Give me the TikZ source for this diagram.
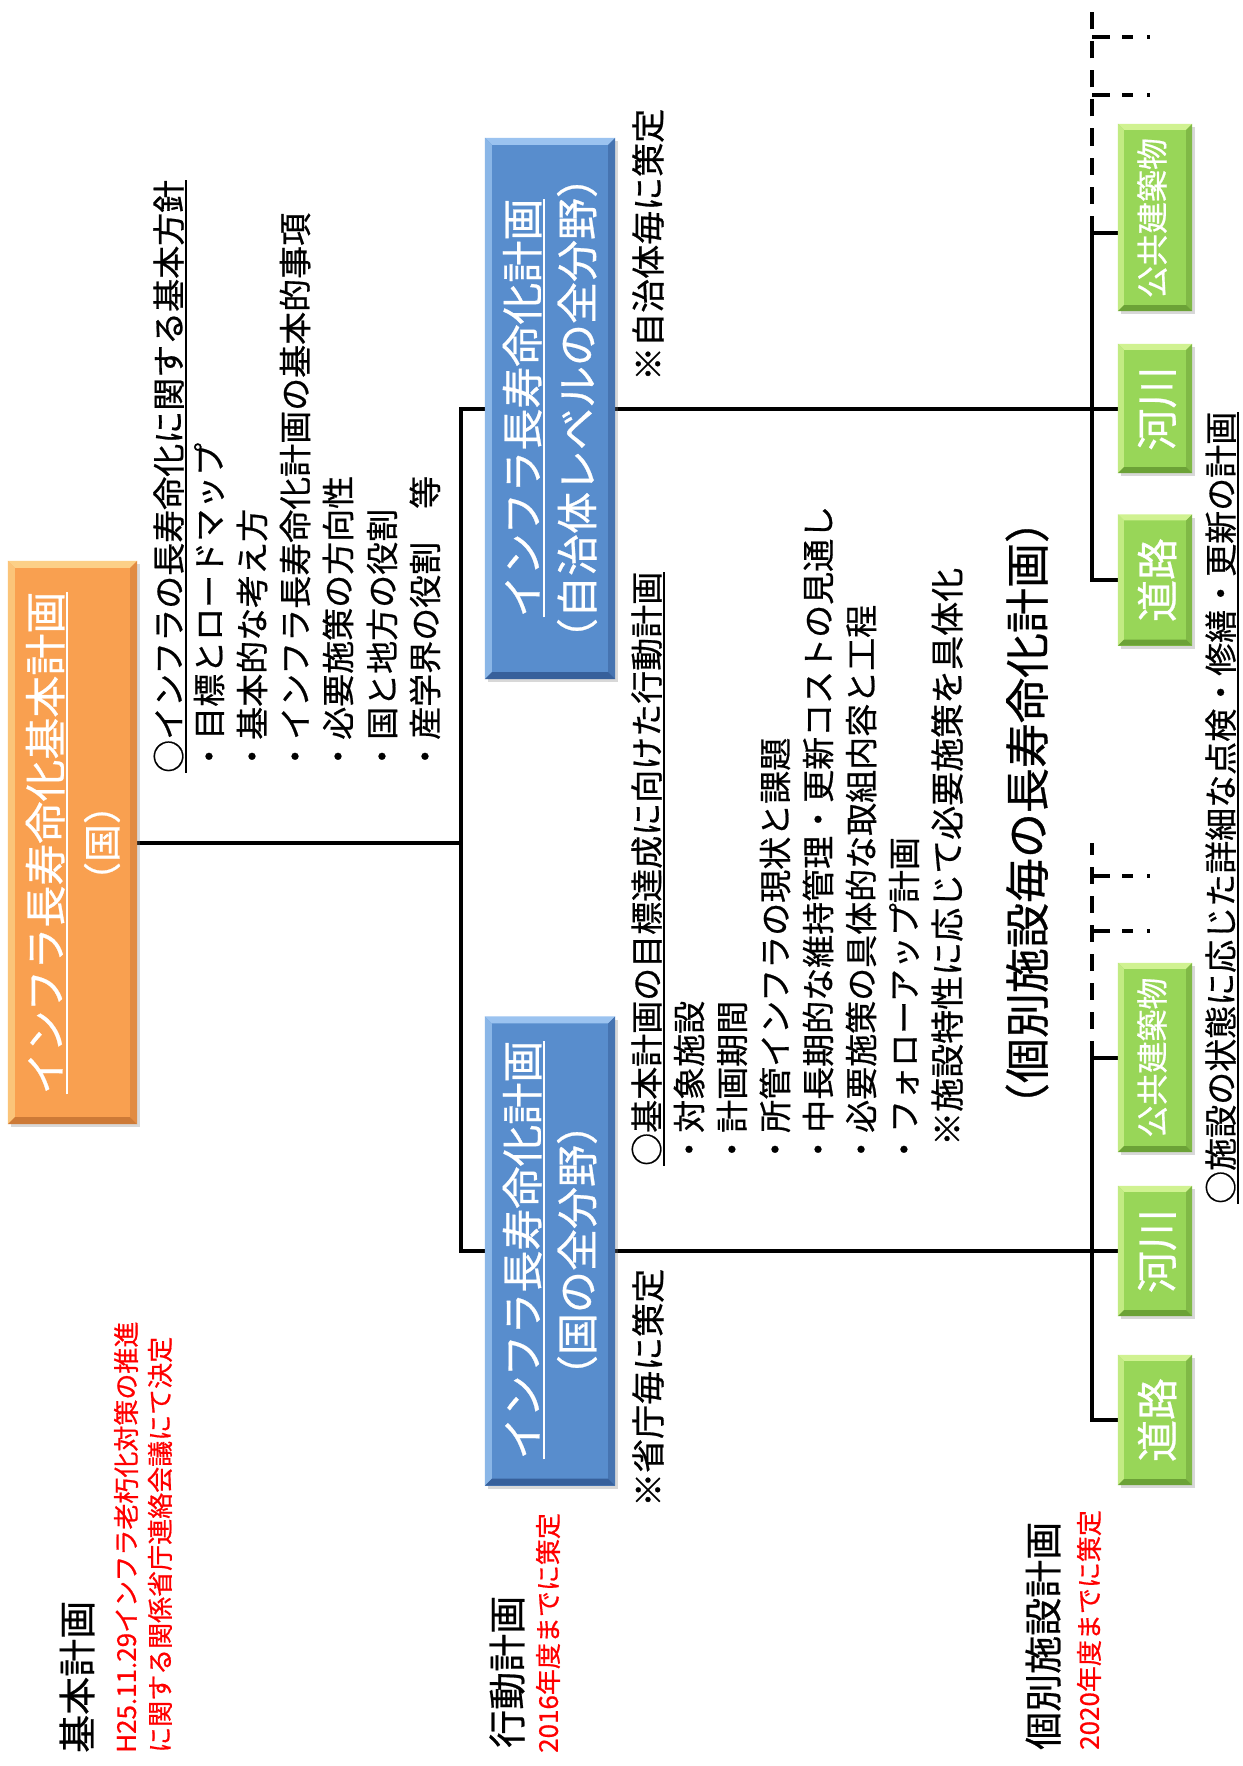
\documentclass[tikz,border=0pt]{standalone}
\usepackage{fontspec}
\setmainfont{Noto Sans CJK JP}[UprightFeatures={FakeBold=0.6}]
\usetikzlibrary{shadows,backgrounds,calc}
\definecolor{orgM}{RGB}{249,160,80}
\definecolor{orgL}{RGB}{252,208,135}
\definecolor{orgD}{RGB}{205,122,55}
\definecolor{bluM}{RGB}{88,141,205}
\definecolor{bluL}{RGB}{155,195,240}
\definecolor{bluD}{RGB}{55,96,155}
\definecolor{grnM}{RGB}{152,214,88}
\definecolor{grnL}{RGB}{208,242,145}
\definecolor{grnD}{RGB}{108,162,55}
\definecolor{redT}{RGB}{255,0,0}
\newsavebox\ulbox
\newcommand{\myul}[1]{\sbox\ulbox{#1}\rlap{\rule[-0.17em]{\wd\ulbox}{0.06em}}\usebox\ulbox}
\newcommand{\fsz}[1]{\fontsize{#1pt}{#1pt}\selectfont}
\newcommand{\bevel}[5]{%
  \fill[#3] (#1.north west) -- (#1.north east) -- ([shift={(-#5,-#5)}]#1.north east) -- ([shift={(#5,-#5)}]#1.north west) -- cycle;
  \fill[#3!75!#2] (#1.north west) -- (#1.south west) -- ([shift={(#5,#5)}]#1.south west) -- ([shift={(#5,-#5)}]#1.north west) -- cycle;
  \fill[#4!55!#2] (#1.north east) -- (#1.south east) -- ([shift={(-#5,#5)}]#1.south east) -- ([shift={(-#5,-#5)}]#1.north east) -- cycle;
  \fill[#4] (#1.south west) -- (#1.south east) -- ([shift={(-#5,#5)}]#1.south east) -- ([shift={(#5,#5)}]#1.south west) -- cycle;
}
\tikzset{
  conn/.style={line width=4pt, black, line cap=rect},
  dashv/.style={line width=4pt, black, dash pattern=on 17pt off 12pt},
  dasht/.style={line width=4pt, black, dash pattern=on 18pt off 12pt on 11pt off 14pt on 2.5pt off 60pt},
  shbox/.style={inner sep=0pt, drop shadow={opacity=0.3, shadow xshift=3pt, shadow yshift=-3pt}},
  obox/.style={shbox, fill=orgM, minimum width=129pt, minimum height=563pt},
  bbox/.style={shbox, fill=bluM, minimum width=130pt},
  gbox/.style={shbox, fill=grnM, minimum width=74pt},
  rt/.style={rotate=90, inner sep=0pt},
  wt/.style={rt, text=white},
  blk/.style={rt, anchor=west, font=\fsz{33}},
  lbl/.style={rt, anchor=west, font=\fsz{38}},
  rlbl/.style={rt, anchor=west, font=\fsz{26}, text=redT},
}
\begin{document}
\begin{tikzpicture}[x=1pt,y=-1pt]
\useasboundingbox (0,0) rectangle (1242,1766);

% boxes
\node[obox] (orange) at (72.5,842.5) {};
\node[bbox, minimum height=541pt] (blueA) at (550,408.5) {};
\node[bbox, minimum height=469pt] (blueB) at (550,1251) {};
\node[gbox, minimum height=187pt] (kouA) at (1155,217.5) {};
\node[gbox, minimum height=129pt] (kawaA) at (1155,408.5) {};
\node[gbox, minimum height=131pt] (michiA) at (1155,580) {};
\node[gbox, minimum height=189pt] (kouB) at (1155,1057.5) {};
\node[gbox, minimum height=130pt] (kawaB) at (1155,1251) {};
\node[gbox, minimum height=130pt] (michiB) at (1155,1420) {};

\bevel{orange}{orgM}{orgL}{orgD}{7pt}
\bevel{blueA}{bluM}{bluL}{bluD}{7pt}
\bevel{blueB}{bluM}{bluL}{bluD}{7pt}
\foreach \g in {kouA,kawaA,michiA,kouB,kawaB,michiB}{\bevel{\g}{grnM}{grnL}{grnD}{6pt}}

% connectors
\coordinate (spL) at (461,842.5);
\coordinate (spR) at (1092,0);
\coordinate (kouAc) at ([yshift=-15pt]kouA.west);
\coordinate (dA) at (1092,8);
\coordinate (dB) at (1092,843);
\coordinate (tA1) at (1092,37);
\coordinate (tA2) at (1092,95);
\coordinate (tB1) at (1092,876);
\coordinate (tB2) at (1092,931);
\begin{pgfonlayer}{background}
\fill[white] (0,0) rectangle (1242,1766);
\draw[conn] (orange.east) -- (spL);
\draw[conn] (blueA.west) -- (blueA.west -| spL) -- (blueB.west -| spL) -- (blueB.west);
\draw[conn] (blueA.east) -- (kawaA.west);
\draw[conn] (blueB.east) -- (kawaB.west);
\draw[conn] (michiA.west) -- (michiA.west -| spR) -- (kouAc -| spR) -- (kouAc);
\draw[conn] (michiB.west) -- (michiB.west -| spR) -- (kouB.west -| spR) -- (kouB.west);
\draw[dashv] (kouAc -| spR) -- (dA);
\draw[dashv] (kouB.west -| spR) -- (dB);
\draw[dasht] (tA1) -- ++(62,0);
\draw[dasht] (tA2) -- ++(62,0);
\draw[dasht] (tB1) -- ++(62,0);
\draw[dasht] (tB2) -- ++(62,0);
\end{pgfonlayer}

% box texts
\node[wt, font=\fsz{42}] (o1) at (47,843) {\myul{インフラ長寿命化基本計画}};
\node[wt, font=\fsz{38}] (o2) at (102,843) {（国）};
\node[wt, font=\fsz{42}] (a1) at (524,408) {\myul{インフラ長寿命化計画}};
\node[wt, font=\fsz{42}] (a2) at (577,408) {（自治体レベルの全分野）};
\node[wt, font=\fsz{42}] (b1) at (524,1250) {\myul{インフラ長寿命化計画}};
\node[wt, font=\fsz{42}] (b2) at (577,1250) {（国の全分野）};
\node[wt, font=\fsz{32}] (gA1) at (1152,218) {公共建築物};
\node[wt, font=\fsz{42}] (gA2) at (1157,408.5) {河川};
\node[wt, font=\fsz{42}] (gA3) at (1157,580) {道路};
\node[wt, font=\fsz{32}] (gB1) at (1152,1057.5) {公共建築物};
\node[wt, font=\fsz{42}] (gB2) at (1157,1251) {河川};
\node[wt, font=\fsz{42}] (gB3) at (1157,1420) {道路};

% upper text block
\node[blk] (h1) at (170,773) {\myul{○インフラの長寿命化に関する基本方針}};
\node[blk] (i1) at (209,773) {・目標とロードマップ};
\node[blk] (i2) at (252,773) {・基本的な考え方};
\node[blk] (i3) at (295,773) {・インフラ長寿命化計画の基本的事項};
\node[blk] (i4) at (338,773) {・必要施策の方向性};
\node[blk] (i5) at (382,773) {・国と地方の役割};
\node[blk] (i6) at (425,773) {・産学界の役割　等};

% lower text block
\node[blk] (h2) at (648,1166) {\myul{○基本計画の目標達成に向けた行動計画}};
\node[blk] (j1) at (689,1166) {・対象施設};
\node[blk] (j2) at (732,1166) {・計画期間};
\node[blk] (j3) at (775,1166) {・所管インフラの現状と課題};
\node[blk] (j4) at (818,1166) {・中長期的な維持管理・更新コストの見通し};
\node[blk] (j5) at (861,1166) {・必要施策の具体的な取組内容と工程};
\node[blk] (j6) at (904,1166) {・フォローアップ計画};
\node[blk, font=\fsz{34}] (j7) at (947,1146) {※施設特性に応じて必要施策を具体化};

\node[rt, anchor=west, font=\fsz{34}] (n1) at (648,381) {※自治体毎に策定};
\node[rt, anchor=west, font=\fsz{34}] (n2) at (648,1507) {※省庁毎に策定};
\node[rt, font=\fsz{45}] (kobetsu) at (1027,813) {（個別施設毎の長寿命化計画）};
\node[rt, anchor=west, font=\fsz{33}] (h3) at (1222,1204) {\myul{○施設の状態に応じた詳細な点検・修繕・更新の計画}};

% left labels
\node[lbl] (L1) at (77,1753) {基本計画};
\node[rlbl] (R1a) at (126,1753) {H25.11.29インフラ老朽化対策の推進};
\node[rlbl] (R1b) at (160,1753) {に関する関係省庁連絡会議にて決定};
\node[lbl] (L2) at (507,1748) {行動計画};
\node[rlbl] (R2) at (548,1753) {2016年度までに策定};
\node[lbl] (L3) at (1043,1750) {個別施設計画};
\node[rlbl] (R3) at (1089,1750) {2020年度までに策定};
\end{tikzpicture}
\end{document}
